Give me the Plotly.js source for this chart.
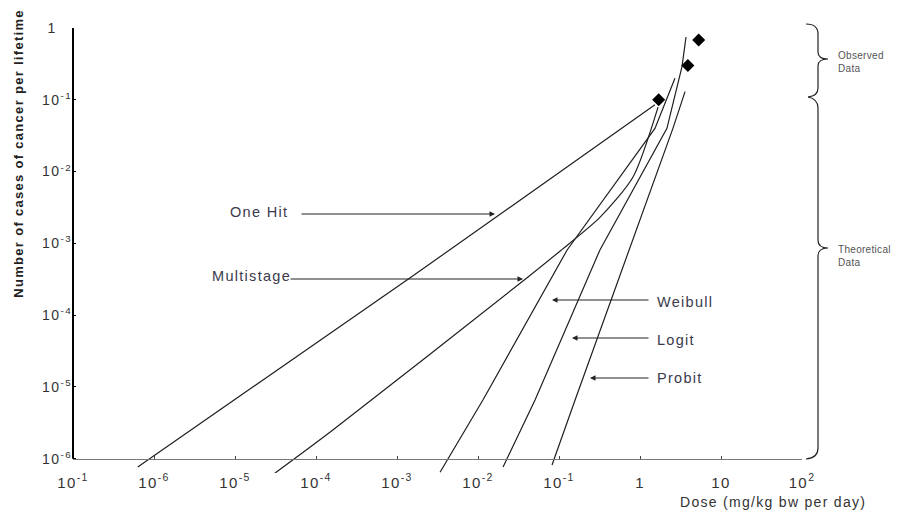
<!DOCTYPE html>
<html>
<head>
<meta charset="utf-8">
<script src="https://cdn.plot.ly/plotly-3.0.1.min.js"></script>
<style>
html,body{margin:0;padding:0;background:#fff;}
#chart{width:913px;height:513px;}
#chart .xtick text, #chart .ytick text{letter-spacing:1.4px;}
#chart .annotation-text{letter-spacing:1.3px;}
#chart g.annotation[data-index="10"] .annotation-text,
#chart g.annotation[data-index="11"] .annotation-text{letter-spacing:0.3px;}
</style>
</head>
<body>
<div id="chart"></div>
<script>
// ---- data (dose in mg/kg bw per day, risk = cases per lifetime) ----
const oneHitDose = [6.3e-7, 1.5e-3, 1.53];
const oneHitRisk = [7.7e-7, 3.4e-4, 0.085];

const multiDose = [3.1e-5, 1.6e-4, 0.040, 0.10, 0.32, 0.82, 1.67];
const multiRisk = [6.3e-7, 2.5e-6, 3.3e-4, 7.6e-4, 2.3e-3, 8.4e-3, 0.079];

const weibDose = [3.4e-3, 0.0115, 0.126, 1.53, 2.7];
const weibRisk = [6.5e-7, 6.6e-6, 8.1e-4, 0.040, 0.20];

const logitDose = [0.0204, 0.0506, 0.32, 2.15, 3.3, 3.7];
const logitRisk = [7.7e-7, 6.6e-6, 8.1e-4, 0.040, 0.29, 0.75];

const probitDose = [0.082, 0.158, 2.55, 3.6];
const probitRisk = [8.2e-7, 6.6e-6, 0.040, 0.13];

const obsDose = [1.7, 3.9, 5.3];
const obsRisk = [0.10, 0.30, 0.68];

const xTickVals = [1e-7, 1e-6, 1e-5, 1e-4, 1e-3, 1e-2, 1e-1, 1, 10, 100];
const xTickText = ['10<sup>-1</sup>', '10<sup>-6</sup>', '10<sup>-5</sup>', '10<sup>-4</sup>', '10<sup>-3</sup>',
                   '10<sup>-2</sup>', '10<sup>-1</sup>', '1', '10', '10<sup>2</sup>'];
const yTickVals = [1e-6, 1e-5, 1e-4, 1e-3, 1e-2, 1e-1, 1];
const yTickText = ['10<sup>-6</sup>', '10<sup>-5</sup>', '10<sup>-4</sup>', '10<sup>-3</sup>', '10<sup>-2</sup>', '10<sup>-1</sup>', '1\u2003'];

const modelNames = ['One Hit', 'Multistage', 'Weibull', 'Logit', 'Probit'];

// ---- layout geometry helpers (pixel -> paper) ----
const W = 913, H = 513;
const M = {l: 73, r: 111, t: 28, b: 40};
const PW = W - M.l - M.r, PH = H - M.t - M.b;
const px = x => (x - M.l) / PW;
const py = y => (H - M.b - y) / PH;
const yLow = -6.198; // log10 lower bound so that lines run a bit under the x axis
const axisPos = (-6 - yLow) / (0 - yLow);

function pathFrom(pts) {
  return pts.map(p => p[0] + ' ' + px(p[1]).toFixed(5) + ',' + py(p[2]).toFixed(5) +
    (p.length > 3 ? ' ' + px(p[3]).toFixed(5) + ',' + py(p[4]).toFixed(5) : '')).join(' ');
}

const series = [
  [oneHitDose, oneHitRisk], [multiDose, multiRisk], [weibDose, weibRisk],
  [logitDose, logitRisk], [probitDose, probitRisk]
];
const traces = series.map((s, i) => ({
  x: s[0], y: s[1], type: 'scatter', mode: 'lines', name: modelNames[i],
  line: {color: '#1f1f1f', width: 1.2, shape: i === 1 ? 'spline' : 'linear', smoothing: 0.7},
  hoverinfo: 'skip'
}));
traces.push({
  x: obsDose, y: obsRisk, type: 'scatter', mode: 'markers', name: 'Observed',
  marker: {symbol: 'diamond', size: 10, color: '#000'}, cliponaxis: false
});

const FAM = 'Liberation Sans, Arial, sans-serif';
const txtFont = {family: FAM, size: 14.5, color: '#3a3a4c'};
const smallFont = {family: FAM, size: 10, color: '#555'};

function arrow(tipX, tipY, tailX) {
  return {xref: 'paper', yref: 'paper', x: px(tipX), y: py(tipY), ax: tailX - tipX, ay: 0,
    text: '', showarrow: true, arrowhead: 2, arrowsize: 1, arrowwidth: 1.1, arrowcolor: '#222', standoff: 0};
}
function label(text, x, y, anchor, font) {
  return {xref: 'paper', yref: 'paper', x: px(x), y: py(y), text: text, showarrow: false,
    xanchor: anchor, yanchor: 'middle', align: 'left', font: font || txtFont};
}

const annotations = [
  label(modelNames[0], 254, 212, 'center'),
  arrow(495, 214, 300),
  label(modelNames[1], 245, 276, 'center'),
  arrow(523, 279, 289),
  label(modelNames[2], 655, 302, 'left'),
  arrow(552, 300, 650),
  label(modelNames[3], 655, 340, 'left'),
  arrow(572, 338, 650),
  label(modelNames[4], 655, 378, 'left'),
  arrow(590, 378, 650),
  label('Observed<br>Data', 836, 62, 'left', smallFont),
  label('Theoretical<br>Data', 836, 256, 'left', smallFont),
  label('Dose (mg/kg bw per day)', 758, 502, 'center', {family: FAM, size: 14, color: '#333'}),
  {xref: 'paper', yref: 'paper', x: px(18), y: py(154), text: '<b>Number of cases of cancer per lifetime</b>',
   showarrow: false, textangle: -90, xanchor: 'center', yanchor: 'middle',
   font: {family: FAM, size: 13, color: '#222'}}
];

const braceObs = pathFrom([
  ['M', 806, 24], ['Q', 818, 24, 818, 34], ['L', 818, 52], ['Q', 818, 59, 828, 59],
  ['Q', 818, 59, 818, 66], ['L', 818, 88], ['Q', 818, 96, 808, 97]
]);
const braceTheo = pathFrom([
  ['M', 808, 97], ['Q', 818, 99, 818, 108], ['L', 818, 240], ['Q', 818, 248, 828, 248],
  ['Q', 818, 248, 818, 256], ['L', 818, 448], ['Q', 818, 458, 806, 459]
]);

const shapes = [
  {type: 'line', xref: 'paper', yref: 'paper', x0: 0, x1: 0, y0: axisPos, y1: 1,
   line: {color: '#000', width: 2}},
  {type: 'path', xref: 'paper', yref: 'paper', path: braceObs, line: {color: '#222', width: 1.2}},
  {type: 'path', xref: 'paper', yref: 'paper', path: braceTheo, line: {color: '#222', width: 1.2}}
];

const layout = {
  width: W, height: H,
  margin: M,
  paper_bgcolor: '#fff', plot_bgcolor: '#fff',
  showlegend: false,
  xaxis: {
    type: 'log', range: [-7, 2], anchor: 'free', position: axisPos,
    tickvals: xTickVals, ticktext: xTickText, tickfont: {family: FAM, size: 15, color: '#333'},
    showgrid: false, zeroline: false, showline: true, linecolor: '#777', linewidth: 1,
    ticks: 'inside', ticklen: 3, tickcolor: '#444', ticklabelstandoff: 10
  },
  yaxis: {
    type: 'log', range: [yLow, 0],
    tickvals: yTickVals, ticktext: yTickText, tickfont: {family: FAM, size: 14, color: '#333'},
    showgrid: false, zeroline: false, showline: false,
    ticks: 'inside', ticklen: 3, tickcolor: '#000', ticklabelstandoff: 0
  },
  annotations: annotations,
  shapes: shapes
};

Plotly.newPlot('chart', traces, layout, {staticPlot: true, displayModeBar: false});
</script>
</body>
</html>
